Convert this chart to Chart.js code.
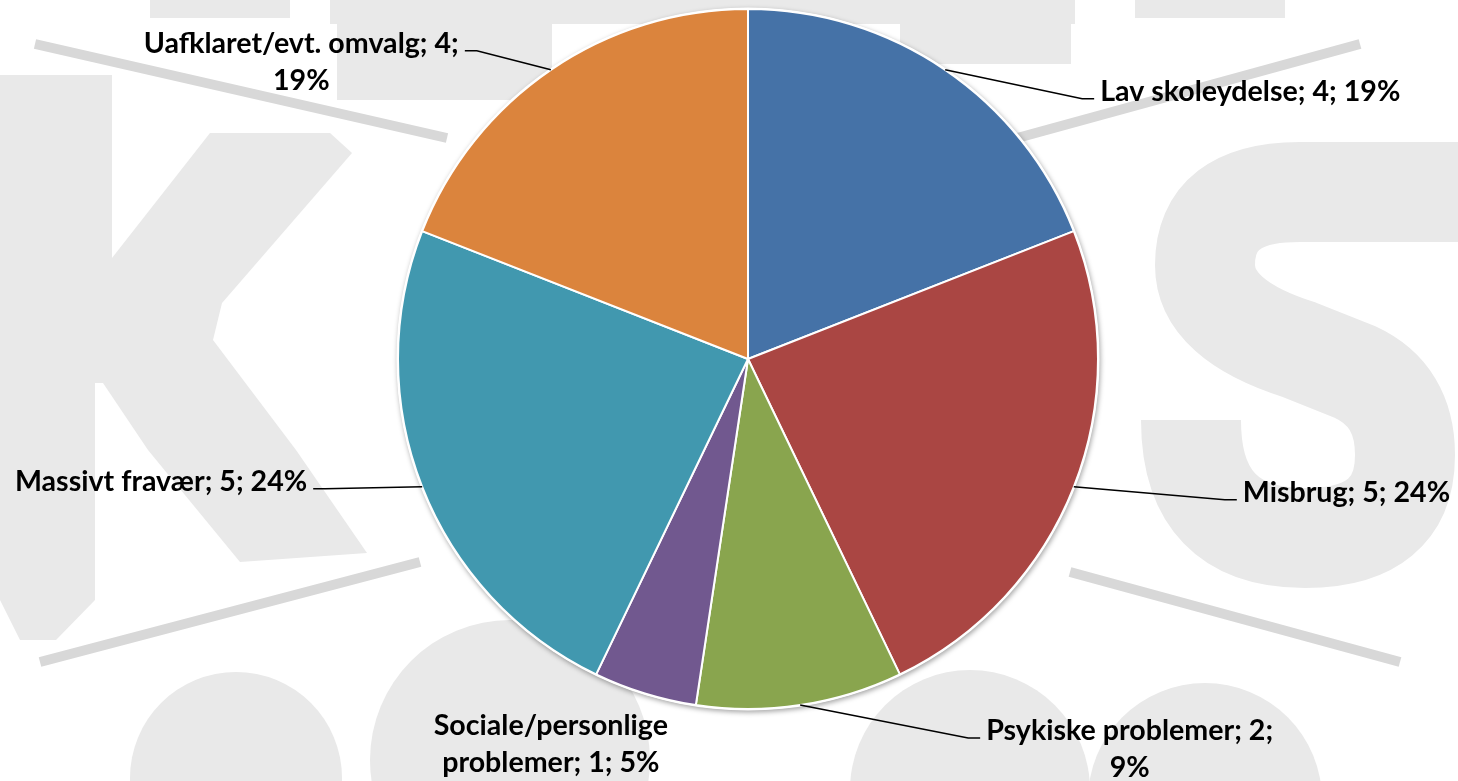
<!DOCTYPE html>
<html><head><meta charset="utf-8">
<script src="https://cdn.jsdelivr.net/npm/chart.js@4.4.0/dist/chart.umd.min.js"></script>
<style>html,body{margin:0;padding:0;background:#fff;overflow:hidden}#wrap{width:1458px;height:781px;position:relative}</style>
</head><body><div id="wrap"><canvas id="c" width="1458" height="781"></canvas></div>
<script>
// ---- data ----
const categories = ["Lav skoleydelse", "Misbrug", "Psykiske problemer", "Sociale/personlige problemer", "Massivt fravær", "Uafklaret/evt. omvalg"];
const counts = [4, 5, 2, 1, 5, 4];
const percentLabels = ["19%", "24%", "9%", "5%", "24%", "19%"];
const sliceColors = ["#4572A7", "#AA4643", "#89A54E", "#71588F", "#4198AF", "#DB843D"];

// ---- label layout (offsets from the slice's outer mid point) ----
const labelLayout = [
  {dx: 137, dy: 29, side: 1},
  {dx: 151, dy: 13, side: 1},
  {dx: 168, dy: 33, side: 1, firstLine: 3},
  {dx: -94, dy: 42, side: 0, firstLine: 1},
  {dx: -97, dy: 2, side: -1},
  {dx: -74, dy: -19, side: -1, firstLine: 3}
];
const LABEL_FONT = "bold 28.6px Lato";
const LINE_H = 36.7;

function labelText(i) {
  const words = (categories[i] + "; " + counts[i] + "; " + percentLabels[i]).split(" ");
  const n = labelLayout[i].firstLine;
  if (!n) return [words.join(" ")];
  return [words.slice(0, n).join(" "), words.slice(n).join(" ")];
}

const backgroundPlugin = {
  id: "bgWatermark",
  beforeDraw(chart) {
    const ctx = chart.ctx;
    ctx.save();
    ctx.fillStyle = "#ffffff";
    ctx.fillRect(0, 0, chart.width, chart.height);
    const light = "#e9e9e9";
    ctx.fillStyle = light;
    const poly = pts => { ctx.beginPath(); ctx.moveTo(pts[0][0], pts[0][1]); for (let k = 1; k < pts.length; k++) ctx.lineTo(pts[k][0], pts[k][1]); ctx.closePath(); ctx.fill(); };
    // K
    poly([[0,75],[112,75],[112,258],[210,133],[330,133],[352,153],[222,303],[213,340],[296,450],[367,553],[240,562],[148,450],[103,383],[95,383],[95,600],[56,640],[20,640],[0,600]]);
    // top blobs
    ctx.fillRect(150, 0, 140, 18);
    ctx.fillRect(330, 0, 745, 24);
    ctx.fillRect(337, 0, 215, 100);
    ctx.fillRect(900, 0, 171, 64);
    ctx.fillRect(1135, 0, 150, 18);
    // S
    ctx.strokeStyle = light; ctx.lineWidth = 100; ctx.lineCap = "butt";
    ctx.beginPath();
    ctx.moveTo(1470, 192);
    ctx.lineTo(1300, 192);
    ctx.quadraticCurveTo(1205, 192, 1205, 265);
    ctx.quadraticCurveTo(1205, 320, 1300, 350);
    ctx.lineTo(1355, 372);
    ctx.quadraticCurveTo(1405, 395, 1405, 455);
    ctx.quadraticCurveTo(1405, 538, 1305, 538);
    ctx.quadraticCurveTo(1191, 538, 1191, 420);
    ctx.stroke();
    // bottom domes
    const dome = (cx, cy, r) => { ctx.beginPath(); ctx.arc(cx, cy, r, 0, Math.PI * 2); ctx.fill(); };
    dome(236, 778, 106);
    dome(510, 760, 140);
    dome(970, 790, 120);
    dome(1205, 800, 117);
    // darker diagonal stripes
    ctx.strokeStyle = "#d8d8d8"; ctx.lineWidth = 10;
    const stripe = (a, b) => { ctx.beginPath(); ctx.moveTo(a[0], a[1]); ctx.lineTo(b[0], b[1]); ctx.stroke(); };
    stripe([35, 44], [447, 138]);
    stripe([1360, 44], [1010, 140]);
    stripe([40, 662], [420, 562]);
    stripe([1070, 572], [1400, 662]);
    ctx.restore();
  }
};

const shadowPlugin = {
  id: "pieShadow",
  beforeDatasetsDraw(chart) {
    const arc = chart.getDatasetMeta(0).data[0];
    if (!arc) return;
    const ctx = chart.ctx;
    ctx.save();
    ctx.shadowColor = "rgba(0,0,0,0.35)";
    ctx.shadowBlur = 5;
    ctx.shadowOffsetX = 1;
    ctx.shadowOffsetY = 2;
    ctx.fillStyle = "#ffffff";
    ctx.beginPath();
    ctx.arc(arc.x, arc.y, arc.outerRadius + 1.5, 0, Math.PI * 2);
    ctx.fill();
    ctx.restore();
  }
};

const labelPlugin = {
  id: "pieLabels",
  afterDatasetsDraw(chart) {
    const ctx = chart.ctx;
    const meta = chart.getDatasetMeta(0);
    ctx.save();
    ctx.font = LABEL_FONT;
    ctx.fillStyle = "#000";
    ctx.strokeStyle = "#000";
    ctx.lineWidth = 1.5;
    ctx.textBaseline = "alphabetic";
    meta.data.forEach((arc, i) => {
      const L = labelLayout[i];
      const mid = (arc.startAngle + arc.endAngle) / 2;
      const sx = arc.x + Math.cos(mid) * arc.outerRadius;
      const sy = arc.y + Math.sin(mid) * arc.outerRadius;
      const ex = sx + L.dx, ey = sy + L.dy;
      const lines = labelText(i);
      if (L.side === 0) {
        ctx.textAlign = "center";
        lines.forEach((t, k) => ctx.fillText(t, ex, ey + k * LINE_H));
        return;
      }
      const tx = ex + L.side * 12;
      ctx.beginPath();
      ctx.moveTo(sx, sy); ctx.lineTo(ex, ey); ctx.lineTo(tx, ey);
      ctx.stroke();
      const gx = tx + L.side * 6;
      const base = ey + 2;
      if (lines.length === 1) {
        ctx.textAlign = L.side > 0 ? "left" : "right";
        ctx.fillText(lines[0], gx, base);
      } else {
        const w = ctx.measureText(lines[0]).width;
        const cx = gx + L.side * w / 2;
        ctx.textAlign = "center";
        lines.forEach((t, k) => ctx.fillText(t, cx, base + k * LINE_H));
      }
    });
    ctx.restore();
  }
};

new Chart(document.getElementById("c"), {
  type: "pie",
  data: {
    labels: categories,
    datasets: [{
      data: counts,
      backgroundColor: sliceColors,
      borderColor: "#ffffff",
      borderWidth: 2,
      radius: 350,
      hoverOffset: 0
    }]
  },
  options: {
    responsive: false,
    animation: false,
    events: [],
    layout: {padding: {left: 38, right: 0, top: 0, bottom: 63}},
    plugins: {legend: {display: false}, tooltip: {enabled: false}}
  },
  plugins: [backgroundPlugin, shadowPlugin, labelPlugin]
});
</script>
</body></html>
